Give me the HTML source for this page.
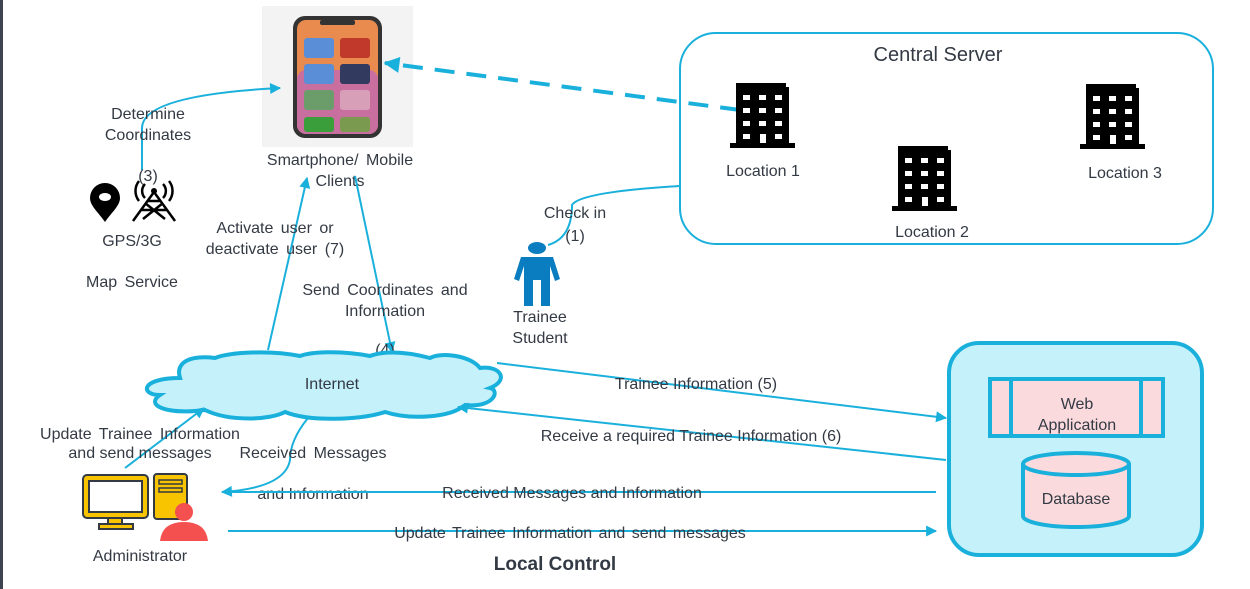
<!DOCTYPE html>
<html><head><meta charset="utf-8"><style>
html,body{margin:0;padding:0;background:#fff;}
svg{display:block;}
text{font-family:"Liberation Sans",sans-serif;font-size:16px;fill:#333a44;}
</style></head><body>
<svg width="1250" height="589" viewBox="0 0 1250 589" xmlns="http://www.w3.org/2000/svg">
<defs>
<marker id="a" viewBox="0 0 10 10" refX="9" refY="5" markerWidth="13" markerHeight="11" orient="auto" markerUnits="userSpaceOnUse"><path d="M0,0 L10,5 L0,10 z" fill="#1ab0dc"/></marker>
<marker id="b" viewBox="0 0 10 10" refX="9" refY="5" markerWidth="18" markerHeight="16" orient="auto" markerUnits="userSpaceOnUse"><path d="M0,0 L10,5 L0,10 z" fill="#1ab0dc"/></marker>
<g id="bld"><path d="M6,0 H56 V4 H59 V60 H65 V65 H0 V60 H6 Z" fill="#000"/>
<g fill="#fff"><rect x="13" y="12" width="7" height="5"/><rect x="29" y="12" width="7" height="5"/><rect x="45" y="12" width="7" height="5"/>
<rect x="13" y="25" width="7" height="5"/><rect x="29" y="25" width="7" height="5"/><rect x="45" y="25" width="7" height="5"/>
<rect x="13" y="38" width="7" height="5"/><rect x="29" y="38" width="7" height="5"/><rect x="45" y="38" width="7" height="5"/>
<rect x="13" y="51" width="7" height="5"/><rect x="30" y="51" width="6" height="9"/><rect x="45" y="51" width="7" height="5"/></g></g>
</defs>
<rect x="0" y="0" width="3" height="589" fill="#3d4350"/>

<!-- phone -->
<rect x="262" y="6" width="151" height="141" fill="#f3f3f3"/>
<rect x="293" y="16" width="89" height="122" rx="12" fill="#333"/>
<rect x="297" y="20" width="81" height="114" rx="9" fill="#e98a4e"/>
<rect x="297" y="70" width="81" height="64" rx="9" fill="#c96fa0"/>
<rect x="320" y="20" width="35" height="5" rx="2" fill="#333"/>
<g fill="#5a8fd8"><rect x="304" y="38" width="30" height="20" rx="3"/><rect x="340" y="38" width="30" height="20" rx="3" fill="#c0392b"/>
<rect x="304" y="64" width="30" height="20" rx="3"/><rect x="340" y="64" width="30" height="20" rx="3" fill="#333a60"/>
<rect x="304" y="90" width="30" height="20" rx="3" fill="#6a9d6a"/><rect x="340" y="90" width="30" height="20" rx="3" fill="#d8a0b8"/>
<rect x="304" y="117" width="30" height="15" rx="3" fill="#3a9f3a"/><rect x="340" y="117" width="30" height="15" rx="3" fill="#7a9a50"/></g>
<text x="340" y="165" text-anchor="middle" word-spacing="3">Smartphone/ Mobile</text>
<text x="340" y="186" text-anchor="middle">Clients</text>

<!-- Determine coordinates -->
<path d="M142,170 V128 Q142,95 280,88" fill="none" stroke="#1ab0dc" stroke-width="2" marker-end="url(#a)"/>
<text x="148" y="119" text-anchor="middle">Determine</text>
<text x="148" y="140" text-anchor="middle">Coordinates</text>
<text x="148" y="181" text-anchor="middle">(3)</text>
<path d="M105,183 a15,15 0 0 1 15,15 c0,8 -9,15 -15,24 c-6,-9 -15,-16 -15,-24 a15,15 0 0 1 15,-15z" fill="#000"/>
<ellipse cx="105" cy="197" rx="6" ry="4" fill="#fff"/>
<g stroke="#000" stroke-width="2.5" fill="none"><path d="M133,221 L154,192 L175,221 M141,210 H167 M145,203 L165,219 M163,203 L143,219 M147,201 H161"/>
<path d="M145,184 a10,10 0 0 0 0,14 M163,184 a10,10 0 0 1 0,14 M139,181 a16,16 0 0 0 0,20 M169,181 a16,16 0 0 1 0,20"/></g>
<circle cx="154" cy="191" r="3" fill="#000"/>
<text x="132" y="246" text-anchor="middle">GPS/3G</text>
<text x="132" y="287" text-anchor="middle" word-spacing="3">Map Service</text>

<!-- dashed -->
<line x1="740" y1="110" x2="385" y2="63" stroke="#1ab0dc" stroke-width="4" stroke-dasharray="20,12" marker-end="url(#b)"/>

<!-- central server -->
<rect x="680" y="33" width="533" height="211" rx="36" fill="none" stroke="#1ab0dc" stroke-width="2"/>
<text x="938" y="61" text-anchor="middle" style="font-size:20px">Central Server</text>
<use href="#bld" x="730" y="83"/><text x="763" y="176" text-anchor="middle">Location 1</text>
<use href="#bld" x="892" y="146"/><text x="932" y="237" text-anchor="middle">Location 2</text>
<use href="#bld" x="1080" y="84"/><text x="1125" y="178" text-anchor="middle">Location 3</text>

<!-- check in -->
<path d="M680,186 Q580,192 572,205 Q572,238 548,245" fill="none" stroke="#1ab0dc" stroke-width="2"/>
<text x="575" y="218" text-anchor="middle">Check in</text>
<text x="575" y="241" text-anchor="middle">(1)</text>
<g fill="#0a7cc0"><ellipse cx="537" cy="248" rx="9" ry="6"/>
<path d="M521,257 H553 L560,279 L555,281 L550,266 V306 H541 V280 H533 V306 H524 V266 L519,281 L514,279 Z"/></g>
<text x="540" y="322" text-anchor="middle">Trainee</text>
<text x="540" y="343" text-anchor="middle">Student</text>

<!-- activate / send -->
<line x1="268" y1="350" x2="307" y2="178" stroke="#1ab0dc" stroke-width="2" marker-end="url(#a)"/>
<text x="275" y="233" text-anchor="middle" word-spacing="3">Activate user or</text>
<text x="275" y="254" text-anchor="middle" word-spacing="3">deactivate user (7)</text>
<line x1="355" y1="176" x2="392" y2="352" stroke="#1ab0dc" stroke-width="2" marker-end="url(#a)"/>
<text x="385" y="295" text-anchor="middle" word-spacing="3">Send Coordinates and</text>
<text x="385" y="316" text-anchor="middle">Information</text>
<text x="385" y="355" text-anchor="middle">(4)</text>

<!-- cloud -->
<path d="M180,378 C140,378 140,395 160,395 C145,405 165,415 205,410 C230,422 270,420 285,412 C310,422 360,420 385,412 C410,420 450,418 465,405 C495,408 500,390 490,388 C510,380 500,365 480,368 C470,355 440,352 430,358 C400,350 380,352 370,356 C340,350 310,352 300,356 C270,350 230,352 215,358 C190,355 175,362 180,378 Z" fill="#c5f1fb" stroke="#1ab0dc" stroke-width="4"/>
<text x="332" y="389" text-anchor="middle">Internet</text>

<!-- to right -->
<line x1="497" y1="363" x2="946" y2="418" stroke="#1ab0dc" stroke-width="2" marker-end="url(#a)"/>
<text x="696" y="389" text-anchor="middle">Trainee Information (5)</text>
<line x1="946" y1="460" x2="458" y2="407" stroke="#1ab0dc" stroke-width="2" marker-end="url(#a)"/>
<text x="691" y="441" text-anchor="middle">Receive a required Trainee Information (6)</text>

<line x1="125" y1="468" x2="204" y2="408" stroke="#1ab0dc" stroke-width="2" marker-end="url(#a)"/>
<text x="140" y="439" text-anchor="middle" word-spacing="3">Update Trainee Information</text>
<text x="140" y="458" text-anchor="middle">and send messages</text>
<path d="M308,418 Q290,440 290,460 Q285,488 222,492" fill="none" stroke="#1ab0dc" stroke-width="2" marker-end="url(#a)"/>
<text x="313" y="458" text-anchor="middle" word-spacing="3">Received Messages</text>
<text x="313" y="499" text-anchor="middle">and Information</text>
<line x1="936" y1="492" x2="224" y2="492" stroke="#1ab0dc" stroke-width="2"/>
<text x="572" y="498" text-anchor="middle">Received Messages and Information</text>
<line x1="228" y1="531" x2="936" y2="531" stroke="#1ab0dc" stroke-width="2" marker-end="url(#a)"/>
<text x="570" y="538" text-anchor="middle" word-spacing="2">Update Trainee Information and send messages</text>

<!-- admin -->
<rect x="83" y="475" width="65" height="43" rx="4" fill="#f8c400" stroke="#333a44" stroke-width="2"/>
<rect x="89" y="481" width="53" height="31" fill="#fff" stroke="#333a44" stroke-width="2"/>
<rect x="108" y="518" width="14" height="7" fill="#f8c400" stroke="#333a44" stroke-width="2"/>
<rect x="99" y="524" width="34" height="5" fill="#f8c400" stroke="#333a44" stroke-width="2"/>
<rect x="154" y="474" width="33" height="45" rx="3" fill="#f8c400" stroke="#333a44" stroke-width="2"/>
<rect x="159" y="480" width="23" height="4" fill="#f8c400" stroke="#333a44" stroke-width="1.5"/>
<rect x="159" y="488" width="23" height="4" fill="#f8c400" stroke="#333a44" stroke-width="1.5"/>
<circle cx="184" cy="512" r="9" fill="#f45050"/>
<path d="M160,541 Q162,522 184,522 Q206,522 208,541 Z" fill="#f45050"/>
<text x="140" y="561" text-anchor="middle">Administrator</text>
<text x="555" y="570" text-anchor="middle" style="font-size:19px;font-weight:bold">Local Control</text>

<!-- right box -->
<rect x="949" y="343" width="253" height="212" rx="30" fill="#c5f1fb" stroke="#1ab0dc" stroke-width="4"/>
<rect x="990" y="379" width="173" height="57" fill="#fadadd" stroke="#1ab0dc" stroke-width="4"/>
<line x1="1011" y1="379" x2="1011" y2="436" stroke="#1ab0dc" stroke-width="4"/>
<line x1="1141" y1="379" x2="1141" y2="436" stroke="#1ab0dc" stroke-width="4"/>
<text x="1077" y="409" text-anchor="middle">Web</text>
<text x="1077" y="430" text-anchor="middle">Application</text>
<path d="M1023,464 V516 A53,11 0 0 0 1129,516 V464" fill="#fadadd" stroke="#1ab0dc" stroke-width="4"/>
<ellipse cx="1076" cy="464" rx="53" ry="11" fill="#fadadd" stroke="#1ab0dc" stroke-width="4"/>
<text x="1076" y="504" text-anchor="middle">Database</text>
</svg>
</body></html>
